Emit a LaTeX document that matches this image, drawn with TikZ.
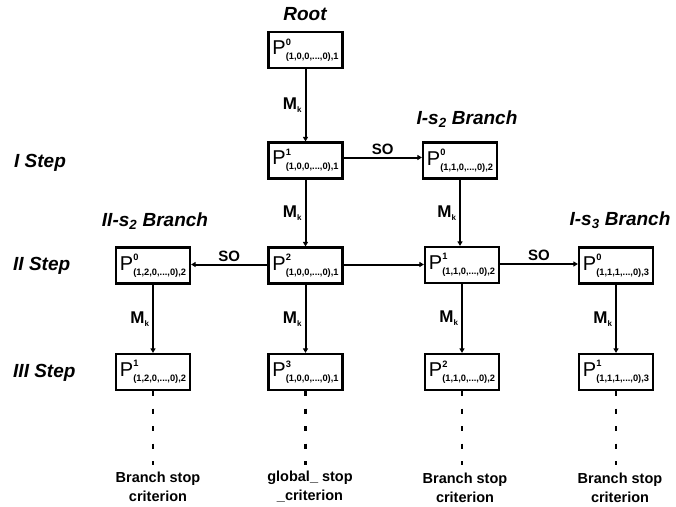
\documentclass[tikz,border=0pt]{standalone}
\usepackage{fontspec}
\setmainfont{Liberation Sans}
\usetikzlibrary{arrows.meta}
\newcommand{\pcell}[2]{{\fontsize{20}{20}\selectfont P}{\fontsize{9.3}{9.3}\selectfont\bfseries\raisebox{9.5pt}{\rlap{#1}}\raisebox{-5pt}{#2}}}
\newcommand{\mklab}{{\fontsize{17}{17}\selectfont\bfseries M\raisebox{-3pt}{\fontsize{8}{8}\selectfont k}}}
\begin{document}
\begin{tikzpicture}[x=1pt,y=-1pt,
  pbox/.style={draw, line width=2.2pt, minimum width=74pt, minimum height=36pt, inner sep=0pt, fill=white},
  conn/.style={line width=2pt, -{Triangle[width=5pt,length=4.5pt]}},
  steplab/.style={font=\fontsize{19}{19}\selectfont\bfseries\itshape, inner sep=0pt},
  mklabel/.style={midway, left=3pt, inner sep=0pt},
  solabel/.style={midway, above=2pt, inner sep=0pt, font=\fontsize{15}{15}\selectfont\bfseries},
  stoplab/.style={align=center, inner sep=0pt, font=\fontsize{14.5}{19}\selectfont\bfseries},
  dotline/.style={line width=2.5pt, dash pattern=on 5pt off 12.5pt}]
\useasboundingbox (0,0) rectangle (676,506);

% titles
\node[steplab] (troot) at (305,14) {Root};
\node[steplab] (tis2) at (467,119) {I-s\textsubscript{2} Branch};
\node[steplab] (tiis2) at (155,221) {II-s\textsubscript{2} Branch};
\node[steplab] (tis3) at (620,220) {I-s\textsubscript{3} Branch};
\node[steplab, anchor=west] (s1) at (14,163) {I Step};
\node[steplab, anchor=west] (s2) at (13,266) {II Step};
\node[steplab, anchor=west] (s3) at (13,373) {III Step};

% boxes
\node[pbox] (root) at (305.5,50) {\pcell{0}{(1,0,0,...,0),1}};
\node[pbox] (r1a) at (305.5,160.5) {\pcell{1}{(1,0,0,...,0),1}};
\node[pbox] (r1b) at (460,160.5) {\pcell{0}{(1,1,0,...,0),2}};
\node[pbox] (r2a) at (153,265.5) {\pcell{0}{(1,2,0,...,0),2}};
\node[pbox] (r2b) at (305.5,265.5) {\pcell{2}{(1,0,0,...,0),1}};
\node[pbox] (r2c) at (462,265) {\pcell{1}{(1,1,0,...,0),2}};
\node[pbox] (r2d) at (616,265.5) {\pcell{0}{(1,1,1,...,0),3}};
\node[pbox] (r3a) at (153,372) {\pcell{1}{(1,2,0,...,0),2}};
\node[pbox] (r3b) at (305.5,372) {\pcell{3}{(1,0,0,...,0),1}};
\node[pbox] (r3c) at (462,372) {\pcell{2}{(1,1,0,...,0),2}};
\node[pbox] (r3d) at (616,372) {\pcell{1}{(1,1,1,...,0),3}};

% vertical Mk arrows
\draw[conn] (root.south) -- node[mklabel]{\mklab} (r1a.north);
\draw[conn] (r1a.south) -- node[mklabel]{\mklab} (r2b.north);
\draw[conn] (r1b.south) -- node[mklabel]{\mklab} (r1b.south |- r2c.north);
\draw[conn] (r2a.south) -- node[mklabel]{\mklab} (r3a.north);
\draw[conn] (r2b.south) -- node[mklabel]{\mklab} (r3b.north);
\draw[conn] (r2c.south) -- node[mklabel]{\mklab} (r3c.north);
\draw[conn] (r2d.south) -- node[mklabel]{\mklab} (r3d.north);

% horizontal SO arrows
\draw[conn] ([yshift=3pt]r1a.east) -- node[solabel]{SO} ([yshift=3pt]r1b.west);
\draw[conn] ([yshift=1pt]r2b.west) -- node[solabel]{SO} ([yshift=1pt]r2a.west -| r2a.east);
\draw[conn] ([yshift=1pt]r2b.east) -- ([yshift=1pt]r2b.east -| r2c.west);
\draw[conn] ([yshift=1pt]r2c.east) -- node[solabel]{SO} ([yshift=1pt]r2c.east -| r2d.west);

% stop criteria
\node[stoplab] (e1) at (158,487) {Branch stop\\criterion};
\node[stoplab] (e2) at (310,487) {global\_ stop\\\_criterion};
\node[stoplab] (e3) at (465,488) {Branch stop\\criterion};
\node[stoplab] (e4) at (620,488) {Branch stop\\criterion};
\coordinate (d1) at (153,465);
\coordinate (d2) at (305.5,465);
\coordinate (d3) at (462,465);
\coordinate (d4) at (616,465);
\draw[dotline] (r3a.south) -- (d1);
\draw[dotline] (r3b.south) -- (d2);
\draw[dotline] (r3c.south) -- (d3);
\draw[dotline] (r3d.south) -- (d4);
\end{tikzpicture}
\end{document}
